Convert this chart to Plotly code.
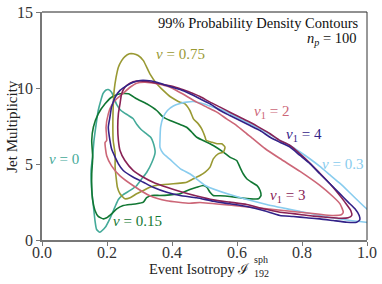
import plotly.graph_objects as go

# ---- contour data (x = event isotropy, y = jet multiplicity) ----
teal_x = [0.160, 0.166, 0.173, 0.181, 0.188, 0.197, 0.204, 0.214, 0.222, 0.230, 0.243, 0.266, 0.280, 0.292, 0.305, 0.320, 0.335, 0.342, 0.348, 0.338, 0.322, 0.307, 0.291, 0.271, 0.250, 0.235, 0.225, 0.209, 0.194, 0.178, 0.168, 0.163, 0.158, 0.153, 0.151, 0.156, 0.160]
teal_y = [6.55, 7.53, 8.52, 9.18, 9.64, 9.87, 9.90, 9.72, 9.31, 8.91, 8.52, 8.19, 7.99, 7.60, 7.27, 7.01, 6.74, 6.41, 5.76, 5.10, 4.44, 4.03, 3.57, 3.26, 2.99, 2.66, 2.20, 1.41, 0.82, 0.51, 0.69, 1.28, 2.27, 3.26, 4.57, 5.56, 6.55]

green_x = [0.153, 0.158, 0.173, 0.194, 0.214, 0.240, 0.266, 0.291, 0.322, 0.353, 0.373, 0.394, 0.425, 0.445, 0.461, 0.476, 0.496, 0.527, 0.558, 0.578, 0.599, 0.609, 0.619, 0.630, 0.645, 0.661, 0.671, 0.674, 0.666, 0.640, 0.609, 0.578, 0.548, 0.527, 0.517, 0.507, 0.496, 0.476, 0.455, 0.435, 0.425, 0.394, 0.363, 0.338, 0.322, 0.312, 0.291, 0.271, 0.250, 0.230, 0.214, 0.199, 0.189, 0.173, 0.163, 0.156, 0.153, 0.153, 0.156, 0.153]
green_y = [6.55, 7.42, 8.30, 8.96, 9.39, 9.62, 9.62, 9.29, 8.96, 8.52, 8.08, 7.86, 7.60, 7.42, 7.09, 6.76, 6.55, 6.22, 5.78, 5.45, 5.23, 4.79, 4.36, 4.03, 3.80, 3.59, 3.26, 2.93, 2.71, 2.71, 2.78, 2.86, 2.91, 2.93, 3.14, 3.47, 3.59, 3.47, 3.32, 3.14, 3.04, 2.97, 2.93, 2.93, 2.78, 2.49, 2.38, 2.34, 2.27, 2.05, 1.72, 1.46, 1.39, 1.55, 1.94, 2.60, 3.47, 4.36, 5.45, 6.55]

olive_x = [0.219, 0.218, 0.219, 0.222, 0.228, 0.235, 0.245, 0.255, 0.269, 0.281, 0.296, 0.312, 0.332, 0.353, 0.373, 0.394, 0.414, 0.425, 0.440, 0.455, 0.466, 0.481, 0.491, 0.502, 0.505, 0.522, 0.538, 0.553, 0.563, 0.558, 0.542, 0.527, 0.517, 0.502, 0.486, 0.466, 0.445, 0.425, 0.363, 0.332, 0.312, 0.291, 0.271, 0.255, 0.240, 0.232, 0.228, 0.225, 0.225, 0.219]
olive_y = [6.55, 7.64, 8.74, 9.84, 10.71, 11.37, 11.80, 12.07, 12.25, 12.25, 12.14, 11.80, 10.93, 10.28, 9.84, 9.44, 9.18, 9.07, 8.96, 8.52, 7.97, 7.64, 7.32, 6.76, 6.56, 6.43, 6.33, 6.33, 6.11, 5.78, 5.67, 5.34, 4.79, 4.46, 4.24, 4.03, 3.80, 3.74, 3.63, 3.47, 3.26, 3.04, 2.78, 2.71, 3.04, 3.47, 4.13, 4.79, 5.67, 6.55]

cyan_x = [0.363, 0.365, 0.373, 0.386, 0.404, 0.425, 0.445, 0.466, 0.496, 0.527, 0.558, 0.589, 0.619, 0.650, 0.681, 0.712, 0.732, 0.763, 0.794, 0.825, 0.855, 0.886, 0.917, 0.948, 0.978, 0.999, 1.025, 1.025, 0.997, 0.896, 0.794, 0.691, 0.578, 0.502, 0.458, 0.425, 0.394, 0.373, 0.363, 0.363]
cyan_y = [6.55, 7.42, 8.08, 8.52, 8.82, 8.98, 9.07, 9.11, 8.96, 8.74, 8.52, 8.19, 7.86, 7.53, 7.20, 6.81, 6.55, 6.22, 5.79, 5.33, 4.84, 4.28, 3.72, 3.09, 2.47, 2.05, 1.61, 1.13, 1.17, 1.45, 1.88, 2.34, 2.99, 3.59, 4.31, 4.70, 5.30, 5.69, 6.09, 6.55]

pink_x = [0.199, 0.197, 0.204, 0.214, 0.230, 0.250, 0.271, 0.291, 0.317, 0.353, 0.394, 0.425, 0.476, 0.507, 0.538, 0.568, 0.599, 0.630, 0.645, 0.686, 0.732, 0.794, 0.855, 0.895, 0.917, 0.927, 0.922, 0.896, 0.794, 0.691, 0.589, 0.486, 0.455, 0.384, 0.332, 0.281, 0.240, 0.214, 0.199, 0.194, 0.199]
pink_y = [6.55, 7.42, 8.30, 8.85, 9.29, 9.66, 10.05, 10.32, 10.38, 10.28, 10.05, 9.70, 9.07, 8.74, 8.41, 7.97, 7.53, 6.99, 6.74, 6.02, 5.36, 4.51, 3.59, 2.86, 2.38, 1.83, 1.68, 1.61, 1.83, 2.05, 2.27, 2.47, 2.42, 2.58, 2.91, 3.57, 4.22, 4.88, 5.54, 6.41, 6.55]

wine_x = [0.235, 0.233, 0.235, 0.240, 0.245, 0.255, 0.271, 0.291, 0.322, 0.363, 0.404, 0.425, 0.455, 0.486, 0.517, 0.548, 0.578, 0.609, 0.640, 0.671, 0.702, 0.732, 0.763, 0.794, 0.825, 0.855, 0.886, 0.912, 0.932, 0.950, 0.953, 0.942, 0.917, 0.876, 0.835, 0.794, 0.763, 0.732, 0.681, 0.630, 0.578, 0.527, 0.476, 0.425, 0.384, 0.342, 0.312, 0.281, 0.255, 0.240, 0.235]
wine_y = [6.55, 7.42, 8.30, 8.96, 9.62, 10.05, 10.32, 10.45, 10.43, 10.28, 10.10, 9.95, 9.72, 9.44, 9.07, 8.74, 8.41, 8.08, 7.75, 7.38, 6.99, 6.55, 6.22, 5.67, 5.05, 4.39, 3.70, 3.04, 2.49, 1.94, 1.61, 1.46, 1.43, 1.50, 1.57, 1.68, 1.76, 1.83, 2.05, 2.34, 2.49, 2.64, 2.89, 3.19, 3.47, 3.80, 4.13, 4.57, 5.23, 5.89, 6.55]

indigo_x = [0.209, 0.204, 0.209, 0.214, 0.225, 0.240, 0.261, 0.281, 0.302, 0.322, 0.353, 0.384, 0.425, 0.455, 0.486, 0.517, 0.548, 0.578, 0.609, 0.640, 0.671, 0.702, 0.732, 0.763, 0.794, 0.825, 0.855, 0.886, 0.917, 0.942, 0.963, 0.976, 0.978, 0.968, 0.938, 0.896, 0.855, 0.814, 0.773, 0.732, 0.681, 0.630, 0.578, 0.527, 0.476, 0.425, 0.384, 0.342, 0.312, 0.281, 0.250, 0.235, 0.225, 0.214, 0.209]
indigo_y = [6.55, 7.42, 8.08, 8.74, 9.39, 9.84, 10.16, 10.38, 10.49, 10.49, 10.38, 10.16, 9.90, 9.62, 9.29, 8.96, 8.52, 8.19, 7.86, 7.53, 7.20, 6.76, 6.43, 6.11, 5.56, 5.01, 4.36, 3.70, 3.04, 2.49, 2.05, 1.61, 1.33, 1.17, 1.17, 1.28, 1.39, 1.46, 1.55, 1.61, 1.94, 2.20, 2.38, 2.55, 2.78, 2.93, 3.14, 3.47, 3.80, 4.13, 4.57, 5.01, 5.45, 6.00, 6.55]

# ---- labels ----
label_text = ["<i>ν</i> = 0", "<i>ν</i> = 0.15", "<i>ν</i> = 0.75", "<i>ν</i> = 0.3",
              "<i>ν</i><sub>1</sub> = 2", "<i>ν</i><sub>1</sub> = 3", "<i>ν</i><sub>1</sub> = 4"]
label_x = [0.068, 0.295, 0.425, 0.925, 0.706, 0.755, 0.805]
label_y = [5.31, 1.26, 12.27, 4.97, 8.41, 2.91, 6.88]

x_ticks = [0.0, 0.2, 0.4, 0.6, 0.8, 1.0]
y_ticks = [0, 5, 10, 15]

colors = {"teal": "#44AA99", "green": "#117733", "olive": "#999933", "cyan": "#88CCEE",
          "pink": "#CC6677", "wine": "#882255", "indigo": "#332288"}
series = [("teal", teal_x, teal_y), ("green", green_x, green_y), ("olive", olive_x, olive_y),
          ("cyan", cyan_x, cyan_y), ("pink", pink_x, pink_y), ("wine", wine_x, wine_y),
          ("indigo", indigo_x, indigo_y)]
label_colors = ["teal", "green", "olive", "cyan", "pink", "wine", "indigo"]

FONT = "Liberation Serif"
fig = go.Figure()
for name, xs, ys in series:
    fig.add_trace(go.Scatter(x=xs, y=ys, mode="lines", name=name,
                             line=dict(color=colors[name], width=1.6, shape="spline", smoothing=0.5),
                             hoverinfo="skip", showlegend=False))

for t, x, y, c in zip(label_text, label_x, label_y, label_colors):
    fig.add_annotation(x=x, y=y, text=t, showarrow=False, xanchor="center", yanchor="middle",
                       font=dict(family=FONT, size=15, color=colors[c]))

fig.add_annotation(x=0.98, y=14.3, text="99% Probability Density Contours", showarrow=False,
                   xanchor="right", yanchor="middle", font=dict(family=FONT, size=14.5, color="#111"))
fig.add_annotation(x=0.975, y=13.2, text="<i>n</i><sub><i>p</i></sub> = 100", showarrow=False,
                   xanchor="right", yanchor="middle", font=dict(family=FONT, size=14.5, color="#111"))

# axis titles as annotations (to stack the super/subscript of the isotropy symbol)
fig.add_annotation(xref="paper", yref="paper", x=0.645, y=-0.128, text="Event Isotropy ℐ",
                   showarrow=False, xanchor="right", yanchor="middle",
                   font=dict(family=FONT, size=14.5, color="#222"))
fig.add_annotation(xref="paper", yref="paper", x=0.647, y=-0.086, text="sph",
                   showarrow=False, xanchor="left", yanchor="middle",
                   font=dict(family=FONT, size=10, color="#222"))
fig.add_annotation(xref="paper", yref="paper", x=0.647, y=-0.148, text="192",
                   showarrow=False, xanchor="left", yanchor="middle",
                   font=dict(family=FONT, size=10, color="#222"))
fig.add_annotation(xref="paper", yref="paper", x=-0.093, y=0.5, text="Jet Multiplicity",
                   textangle=-90, showarrow=False, xanchor="center", yanchor="middle",
                   font=dict(family=FONT, size=15, color="#222"))

# top and right frame lines
fig.add_shape(type="line", xref="paper", yref="paper", x0=0, x1=1, y0=1, y1=1,
              line=dict(color="#222", width=1))
fig.add_shape(type="line", xref="paper", yref="paper", x0=1, x1=1, y0=0, y1=1,
              line=dict(color="#333", width=1))

fig.update_layout(
    width=382, height=284,
    margin=dict(l=42, r=15, t=12, b=44, autoexpand=False),
    paper_bgcolor="white", plot_bgcolor="white",
    font=dict(family=FONT, size=15, color="#222"),
    xaxis=dict(range=[0, 1.0], tickvals=x_ticks, ticktext=[f"{v:.1f}" for v in x_ticks],
               showgrid=False, zeroline=False, showline=True, linecolor="#777", linewidth=1.5,
               ticks="outside", ticklen=4, tickcolor="#777", tickwidth=1, automargin=False,
               ticklabeloverflow="allow", ticklabelstandoff=-7,
               tickfont=dict(family=FONT, size=16, color="#333")),
    yaxis=dict(range=[0, 15], tickvals=y_ticks, ticktext=[str(v) for v in y_ticks],
               showgrid=False, zeroline=False, showline=True, linecolor="#777", linewidth=1.5,
               ticks="outside", ticklen=4, tickcolor="#777", tickwidth=1, automargin=False,
               ticklabeloverflow="allow",
               tickfont=dict(family=FONT, size=16, color="#333")),
)

# remove the default 8px page margin so the 382x284 figure fills the window exactly
fig.write_html("out.html", config={"displayModeBar": False},
               post_script="document.body.style.margin='0';")
